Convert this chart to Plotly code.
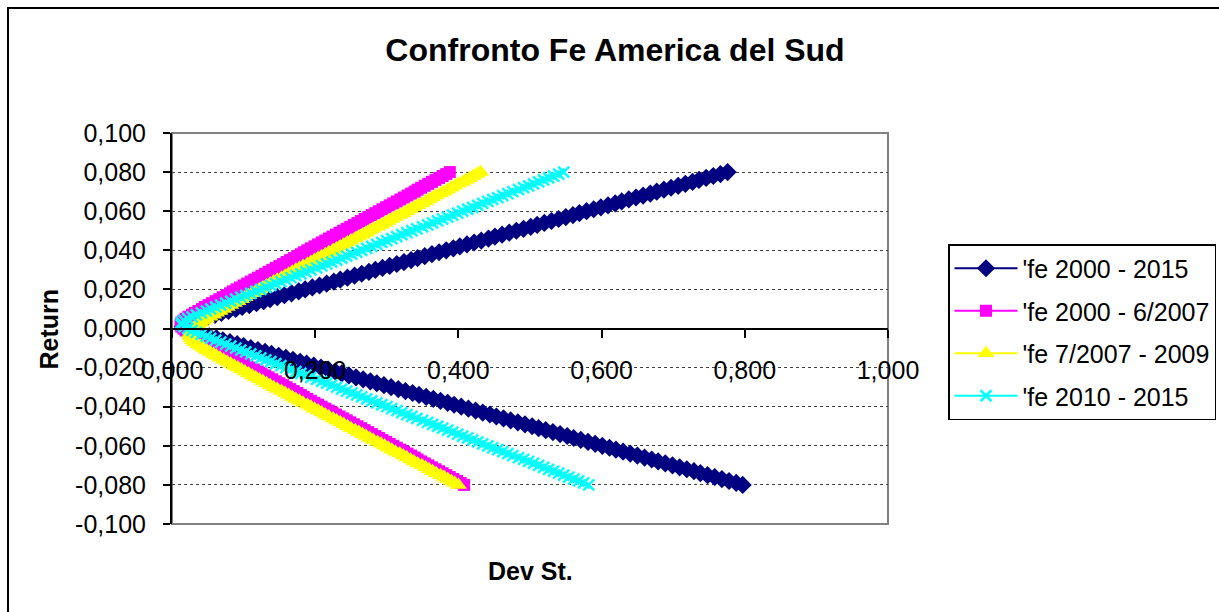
import plotly.graph_objects as go

# Target returns of the efficient frontier (y axis)
RETURN = [
    -0.080, -0.079, -0.078, -0.077, -0.076, -0.075, -0.074, -0.073, -0.072, -0.071,
    -0.070, -0.069, -0.068, -0.067, -0.066, -0.065, -0.064, -0.063, -0.062, -0.061,
    -0.060, -0.059, -0.058, -0.057, -0.056, -0.055, -0.054, -0.053, -0.052, -0.051,
    -0.050, -0.049, -0.048, -0.047, -0.046, -0.045, -0.044, -0.043, -0.042, -0.041,
    -0.040, -0.039, -0.038, -0.037, -0.036, -0.035, -0.034, -0.033, -0.032, -0.031,
    -0.030, -0.029, -0.028, -0.027, -0.026, -0.025, -0.024, -0.023, -0.022, -0.021,
    -0.020, -0.019, -0.018, -0.017, -0.016, -0.015, -0.014, -0.013, -0.012, -0.011,
    -0.010, -0.009, -0.008, -0.007, -0.006, -0.005, -0.004, -0.003, -0.002, -0.001,
    0.000,
    0.001, 0.002, 0.003, 0.004, 0.005, 0.006, 0.007, 0.008, 0.009, 0.010,
    0.011, 0.012, 0.013, 0.014, 0.015, 0.016, 0.017, 0.018, 0.019, 0.020,
    0.021, 0.022, 0.023, 0.024, 0.025, 0.026, 0.027, 0.028, 0.029, 0.030,
    0.031, 0.032, 0.033, 0.034, 0.035, 0.036, 0.037, 0.038, 0.039, 0.040,
    0.041, 0.042, 0.043, 0.044, 0.045, 0.046, 0.047, 0.048, 0.049, 0.050,
    0.051, 0.052, 0.053, 0.054, 0.055, 0.056, 0.057, 0.058, 0.059, 0.060,
    0.061, 0.062, 0.063, 0.064, 0.065, 0.066, 0.067, 0.068, 0.069, 0.070,
    0.071, 0.072, 0.073, 0.074, 0.075, 0.076, 0.077, 0.078, 0.079, 0.080,
]

# Standard deviation for each target return, one list per period
DEV_2000_2015 = [
    0.797, 0.788, 0.778, 0.768, 0.758, 0.748, 0.738, 0.729, 0.719, 0.709,
    0.699, 0.689, 0.679, 0.670, 0.660, 0.650, 0.640, 0.630, 0.620, 0.611,
    0.601, 0.591, 0.581, 0.571, 0.561, 0.552, 0.542, 0.532, 0.522, 0.512,
    0.503, 0.493, 0.483, 0.473, 0.463, 0.453, 0.444, 0.434, 0.424, 0.414,
    0.404, 0.394, 0.385, 0.375, 0.365, 0.355, 0.345, 0.336, 0.326, 0.316,
    0.306, 0.296, 0.286, 0.277, 0.267, 0.257, 0.247, 0.237, 0.228, 0.218,
    0.208, 0.198, 0.188, 0.179, 0.169, 0.159, 0.149, 0.139, 0.130, 0.120,
    0.110, 0.100, 0.091, 0.081, 0.071, 0.062, 0.052, 0.043, 0.034, 0.026,
    0.018,
    0.015, 0.017, 0.024, 0.032, 0.041, 0.050, 0.060, 0.069, 0.079, 0.089,
    0.098, 0.108, 0.118, 0.128, 0.137, 0.147, 0.157, 0.167, 0.177, 0.186,
    0.196, 0.206, 0.216, 0.226, 0.235, 0.245, 0.255, 0.265, 0.275, 0.284,
    0.294, 0.304, 0.314, 0.324, 0.334, 0.343, 0.353, 0.363, 0.373, 0.383,
    0.393, 0.402, 0.412, 0.422, 0.432, 0.442, 0.451, 0.461, 0.471, 0.481,
    0.491, 0.501, 0.510, 0.520, 0.530, 0.540, 0.550, 0.560, 0.569, 0.579,
    0.589, 0.599, 0.609, 0.619, 0.628, 0.638, 0.648, 0.658, 0.668, 0.677,
    0.687, 0.697, 0.707, 0.717, 0.727, 0.736, 0.746, 0.756, 0.766, 0.776,
]

DEV_2000_062007 = [
    0.408, 0.403, 0.398, 0.393, 0.388, 0.383, 0.378, 0.373, 0.368, 0.363,
    0.358, 0.353, 0.348, 0.343, 0.339, 0.334, 0.329, 0.324, 0.319, 0.314,
    0.309, 0.304, 0.299, 0.294, 0.289, 0.284, 0.279, 0.274, 0.269, 0.264,
    0.259, 0.254, 0.249, 0.244, 0.239, 0.234, 0.229, 0.224, 0.219, 0.214,
    0.209, 0.204, 0.199, 0.194, 0.189, 0.184, 0.180, 0.175, 0.170, 0.165,
    0.160, 0.155, 0.150, 0.145, 0.140, 0.135, 0.130, 0.125, 0.120, 0.115,
    0.110, 0.105, 0.100, 0.095, 0.090, 0.085, 0.081, 0.076, 0.071, 0.066,
    0.061, 0.056, 0.051, 0.046, 0.042, 0.037, 0.032, 0.028, 0.023, 0.019,
    0.016,
    0.013, 0.012, 0.013, 0.016, 0.019, 0.023, 0.028, 0.032, 0.037, 0.042,
    0.046, 0.051, 0.056, 0.061, 0.066, 0.071, 0.076, 0.081, 0.085, 0.090,
    0.095, 0.100, 0.105, 0.110, 0.115, 0.120, 0.125, 0.130, 0.135, 0.140,
    0.145, 0.150, 0.155, 0.160, 0.165, 0.170, 0.175, 0.180, 0.184, 0.189,
    0.194, 0.199, 0.204, 0.209, 0.214, 0.219, 0.224, 0.229, 0.234, 0.239,
    0.244, 0.249, 0.254, 0.259, 0.264, 0.269, 0.274, 0.279, 0.284, 0.289,
    0.294, 0.299, 0.304, 0.309, 0.314, 0.319, 0.324, 0.329, 0.334, 0.339,
    0.343, 0.348, 0.353, 0.358, 0.363, 0.368, 0.373, 0.378, 0.383, 0.388,
]

DEV_072007_2009 = [
    0.400, 0.395, 0.390, 0.385, 0.380, 0.375, 0.369, 0.364, 0.359, 0.354,
    0.349, 0.343, 0.338, 0.333, 0.328, 0.323, 0.318, 0.312, 0.307, 0.302,
    0.297, 0.292, 0.287, 0.281, 0.276, 0.271, 0.266, 0.261, 0.256, 0.250,
    0.245, 0.240, 0.235, 0.230, 0.225, 0.219, 0.214, 0.209, 0.204, 0.199,
    0.194, 0.189, 0.183, 0.178, 0.173, 0.168, 0.163, 0.158, 0.153, 0.147,
    0.142, 0.137, 0.132, 0.127, 0.122, 0.117, 0.112, 0.107, 0.102, 0.097,
    0.092, 0.087, 0.082, 0.077, 0.072, 0.067, 0.062, 0.058, 0.053, 0.048,
    0.044, 0.040, 0.036, 0.032, 0.029, 0.027, 0.026, 0.025, 0.026, 0.027,
    0.029,
    0.032, 0.036, 0.040, 0.044, 0.048, 0.053, 0.058, 0.062, 0.067, 0.072,
    0.077, 0.082, 0.087, 0.092, 0.097, 0.102, 0.107, 0.112, 0.117, 0.122,
    0.127, 0.132, 0.137, 0.142, 0.147, 0.153, 0.158, 0.163, 0.168, 0.173,
    0.178, 0.183, 0.189, 0.194, 0.199, 0.204, 0.209, 0.214, 0.219, 0.225,
    0.230, 0.235, 0.240, 0.245, 0.250, 0.256, 0.261, 0.266, 0.271, 0.276,
    0.281, 0.287, 0.292, 0.297, 0.302, 0.307, 0.312, 0.318, 0.323, 0.328,
    0.333, 0.338, 0.343, 0.349, 0.354, 0.359, 0.364, 0.369, 0.375, 0.380,
    0.385, 0.390, 0.395, 0.400, 0.406, 0.411, 0.416, 0.421, 0.426, 0.431,
]

DEV_2010_2015 = [
    0.582, 0.575, 0.568, 0.561, 0.554, 0.547, 0.540, 0.533, 0.526, 0.519,
    0.512, 0.505, 0.498, 0.491, 0.484, 0.476, 0.469, 0.462, 0.455, 0.448,
    0.441, 0.434, 0.427, 0.420, 0.413, 0.406, 0.399, 0.392, 0.385, 0.378,
    0.371, 0.364, 0.357, 0.350, 0.342, 0.335, 0.328, 0.321, 0.314, 0.307,
    0.300, 0.293, 0.286, 0.279, 0.272, 0.265, 0.258, 0.251, 0.244, 0.237,
    0.230, 0.223, 0.216, 0.209, 0.202, 0.194, 0.187, 0.180, 0.173, 0.166,
    0.159, 0.152, 0.145, 0.138, 0.131, 0.124, 0.117, 0.110, 0.103, 0.096,
    0.089, 0.082, 0.075, 0.068, 0.061, 0.054, 0.048, 0.041, 0.034, 0.028,
    0.022,
    0.017, 0.013, 0.013, 0.017, 0.022, 0.028, 0.034, 0.041, 0.048, 0.054,
    0.061, 0.068, 0.075, 0.082, 0.089, 0.096, 0.103, 0.110, 0.117, 0.124,
    0.131, 0.138, 0.145, 0.152, 0.159, 0.166, 0.173, 0.180, 0.187, 0.194,
    0.202, 0.209, 0.216, 0.223, 0.230, 0.237, 0.244, 0.251, 0.258, 0.265,
    0.272, 0.279, 0.286, 0.293, 0.300, 0.307, 0.314, 0.321, 0.328, 0.335,
    0.342, 0.350, 0.357, 0.364, 0.371, 0.378, 0.385, 0.392, 0.399, 0.406,
    0.413, 0.420, 0.427, 0.434, 0.441, 0.448, 0.455, 0.462, 0.469, 0.476,
    0.484, 0.491, 0.498, 0.505, 0.512, 0.519, 0.526, 0.533, 0.540, 0.547,
]

SERIES_NAMES = ["'fe 2000 - 2015", "'fe 2000 - 6/2007", "'fe 7/2007 - 2009", "'fe 2010 - 2015"]

X_TICK_VALUES = [0.0, 0.2, 0.4, 0.6, 0.8, 1.0]
X_TICK_LABELS = ["0,000", "0,200", "0,400", "0,600", "0,800", "1,000"]
Y_TICK_VALUES = [-0.10, -0.08, -0.06, -0.04, -0.02, 0.0, 0.02, 0.04, 0.06, 0.08, 0.10]
Y_TICK_LABELS = ["-0,100", "-0,080", "-0,060", "-0,040", "-0,020", "0,000",
                 "0,020", "0,040", "0,060", "0,080", "0,100"]

FONT = "Arial, Liberation Sans, sans-serif"

styles = [
    dict(color="#000080", symbol="diamond", size=14),
    dict(color="#FF00FF", symbol="square", size=12),
    dict(color="#FFFF00", symbol="triangle-up", size=15),
    dict(color="#00FFFF", symbol="x-thin", size=11),
]
devs = [DEV_2000_2015, DEV_2000_062007, DEV_072007_2009, DEV_2010_2015]

fig = go.Figure()
for i, (name, dev, st) in enumerate(zip(SERIES_NAMES, devs, styles)):
    if st["symbol"] == "x-thin":
        marker = dict(symbol="x-thin", size=st["size"], color=st["color"],
                      line=dict(color=st["color"], width=2.5))
    else:
        marker = dict(symbol=st["symbol"], size=st["size"], color=st["color"],
                      line=dict(width=0))
    fig.add_trace(go.Scatter(
        x=dev, y=RETURN, name=name, mode="lines+markers",
        line=dict(color=st["color"], width=2),
        marker=marker, legendgroup=f"g{i}",
    ))

W, H = 1219, 612
L, R, T, B = 172, 888, 133, 524  # plot area in pixels


def px_x(p):
    return (p - L) / (R - L)


def px_y(p):
    return (B - p) / (B - T)


fig.update_layout(
    width=W, height=H,
    margin=dict(l=L, r=W - R, t=T, b=H - B, autoexpand=False),
    paper_bgcolor="white", plot_bgcolor="white",
    font=dict(family=FONT, color="black", size=25),
    title=dict(text="<b>Confronto Fe America del Sud</b>",
               font=dict(family=FONT, size=32, color="black"),
               x=615 / W, xref="container", xanchor="center",
               y=1 - 50 / H, yref="container", yanchor="middle"),
    showlegend=True,
    legend=dict(x=px_x(948), y=px_y(244), xanchor="left", yanchor="top",
                bgcolor="white", bordercolor="black", borderwidth=1.5,
                font=dict(family=FONT, size=25, color="black"),
                tracegroupgap=7, itemwidth=63),
    xaxis=dict(range=[0, 1], tickvals=X_TICK_VALUES, ticktext=X_TICK_LABELS,
               showgrid=False, zeroline=False, anchor="free", position=0.5,
               showline=True, linecolor="black", linewidth=2,
               ticks="outside", ticklen=8, tickwidth=2, tickcolor="black",
               ticklabelstandoff=11,
               tickfont=dict(family=FONT, size=25, color="black")),
    yaxis=dict(range=[-0.1, 0.1], tickvals=Y_TICK_VALUES, ticktext=Y_TICK_LABELS,
               showgrid=True, gridcolor="#404040", griddash="dot", gridwidth=1,
               zeroline=False, showline=True, linecolor="black", linewidth=2,
               ticks="outside", ticklen=7, tickwidth=2, tickcolor="black",
               ticklabelstandoff=12,
               tickfont=dict(family=FONT, size=25, color="black")),
    shapes=[
        # plot area frame
        dict(type="rect", xref="paper", yref="paper", x0=0, y0=0, x1=1, y1=1,
             line=dict(color="#808080", width=2), layer="below"),
        # chart area frame
        dict(type="rect", xref="paper", yref="paper",
             x0=px_x(8), y0=px_y(625), x1=px_x(1230), y1=px_y(8),
             line=dict(color="black", width=2), layer="below"),
    ],
    annotations=[
        dict(text="<b>Dev St.</b>", xref="paper", yref="paper",
             x=0.5, y=px_y(571), xanchor="center", yanchor="middle",
             showarrow=False, font=dict(family=FONT, size=25, color="black")),
        dict(text="<b>Return</b>", xref="paper", yref="paper",
             x=px_x(48), y=0.5, xanchor="center", yanchor="middle", textangle=-90,
             showarrow=False, font=dict(family=FONT, size=25, color="black")),
    ],
)

fig.write_html("out.html")
